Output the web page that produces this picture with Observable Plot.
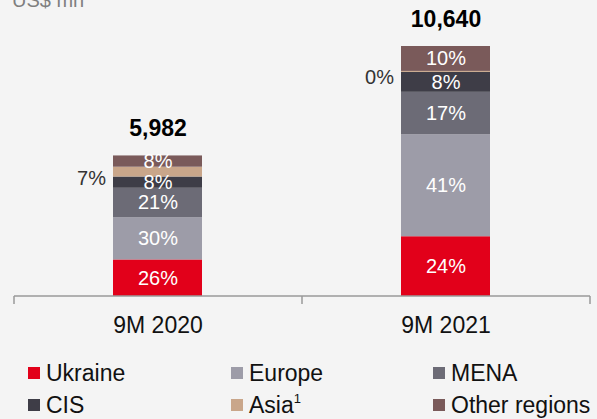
<!DOCTYPE html>
<html>
<head>
<meta charset="utf-8">
<script src="https://cdn.jsdelivr.net/npm/d3@7"></script>
<script src="https://cdn.jsdelivr.net/npm/@observablehq/plot@0.6"></script>
<style>
  html, body { margin: 0; padding: 0; background: #f4f4f4; width: 597px; height: 419px; overflow: hidden; }
  body { position: relative; font-family: "Liberation Sans", Arial, sans-serif; }
  #unit { position: absolute; left: 12px; top: -10px; font-size: 20px; line-height: 20px; color: #7f7f7f; }
  #chart { position: absolute; left: 0; top: 0; }
  #legend { position: absolute; left: 28px; top: 360px; display: grid; grid-template-columns: 203px 202px 160px; grid-auto-rows: 32px; }
  .item { display: flex; align-items: center; font-size: 23px; color: #111; height: 26px; white-space: nowrap; }
  .sw { width: 12px; height: 12px; margin-right: 6px; flex: none; }
  sup { font-size: 13px; line-height: 0; vertical-align: 10px; }
</style>
</head>
<body>
<div id="unit">US$ mn</div>
<div id="chart"></div>
<div id="legend"></div>
<script>
const periods = ["9M 2020", "9M 2021"];
const totals = [5982, 10640];
const regions = ["Ukraine", "Europe", "MENA", "CIS", "Asia", "Other regions"];
const legendLabels = ["Ukraine", "Europe", "MENA", "CIS", "Asia<sup>1</sup>", "Other regions"];
const colors = ["#e2001a", "#9d9ca8", "#6c6b76", "#3e3d47", "#c9a68a", "#7a5a5a"];
// shares (%) per region, per period
const ukraine = [26, 24];
const europe = [30, 41];
const mena = [21, 17];
const cis = [8, 8];
const asia = [7, 0.4];
const other = [8, 10];
const shares = [ukraine, europe, mena, cis, asia, other];

const data = [];
periods.forEach((p, i) => {
  const sum = d3.sum(shares, s => s[i]);
  regions.forEach((r, j) => {
    data.push({period: p, region: r, share: shares[j][i], value: totals[i] * shares[j][i] / sum});
  });
});
const totalData = periods.map((p, i) => ({period: p, total: totals[i]}));

const axisMark = (index, scales, values, dim) => {
  const left = dim.marginLeft, right = dim.width - dim.marginRight;
  const y0 = scales.y(0);
  const n = periods.length;
  const step = (right - left) / n;
  let d = `M${left},${y0}H${right}`;
  for (let i = 0; i <= n; i++) d += `M${left + i * step},${y0}V${y0 + 8}`;
  const path = d3.create("svg:path").attr("d", d).attr("fill", "none").attr("stroke", "#999").attr("stroke-width", 1.5);
  return path.node();
};

const plot = Plot.plot({
  width: 597,
  height: 345,
  marginTop: 46,
  marginBottom: 49,
  marginLeft: 14,
  marginRight: 7,
  style: {background: "transparent", fontFamily: "'Liberation Sans', Arial, sans-serif", fontSize: "20px"},
  x: {domain: periods, paddingInner: 0.69, paddingOuter: 0.345, label: null},
  y: {domain: [0, 10640], axis: null},
  color: {domain: regions, range: colors},
  marks: [
    Plot.barY(data, Plot.stackY({x: "period", y: "value", z: "region", fill: "region"})),
    Plot.text(data, Plot.stackY({x: "period", y: "value", z: "region",
      text: d => d.region === "Asia" ? "" : Math.round(d.share) + "%", fill: "white", fontSize: 20})),
    Plot.text(data, Plot.stackY({x: "period", y: "value", z: "region",
      text: d => d.region === "Asia" ? Math.round(d.share) + "%" : "", fill: "#333", fontSize: 20,
      textAnchor: "end", dx: -52, dy: 6})),
    Plot.text(totalData, {x: "period", y: "total", text: d => d3.format(",")(d.total), dy: -27,
      fontWeight: "bold", fontSize: 23, fill: "#000"}),
    axisMark,
    Plot.axisX({tickSize: 0, tickPadding: 20, fontSize: 23, fill: "#111", label: null})
  ]
});
document.getElementById("chart").appendChild(plot);

const legend = document.getElementById("legend");
regions.forEach((r, j) => {
  const it = document.createElement("div");
  it.className = "item";
  it.innerHTML = `<span class="sw" style="background:${colors[j]}"></span><span>${legendLabels[j]}</span>`;
  legend.appendChild(it);
});
</script>
</body>
</html>
